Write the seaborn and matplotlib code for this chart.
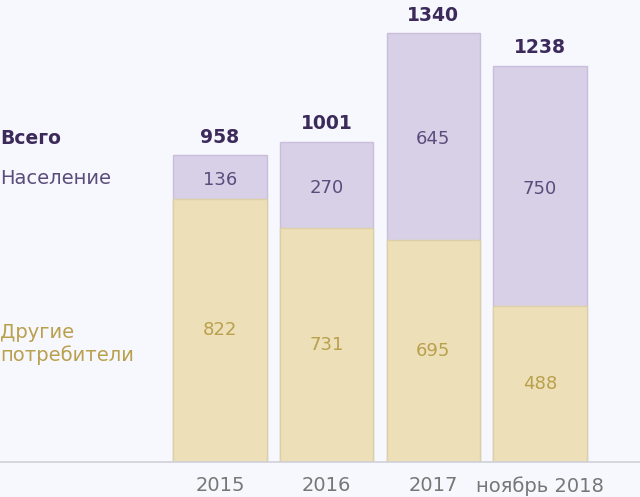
import numpy as np
import pandas as pd
import matplotlib
matplotlib.use("Agg")
import matplotlib.pyplot as plt
import seaborn as sns

# data
periods = ["2015", "2016", "2017", "ноябрь 2018"]
others = [822, 731, 695, 488]        # Другие потребители
population = [136, 270, 645, 750]    # Население
totals = [958, 1001, 1340, 1238]     # Всего

sns.set_style("white")
plt.rcParams["font.family"] = ["DejaVu Sans"]

BG = "#f7f8fd"
PURPLE_BAR = "#d8d0e6"
PURPLE_EDGE = "#c9bfdc"
BEIGE_BAR = "#ede0b8"
BEIGE_EDGE = "#ddd0a6"
DARK = "#3b2a5a"
MID_PURPLE = "#5b4c7c"
GOLD = "#b9a04c"
TICK_GREY = "#777777"

df = pd.DataFrame({"period": periods, "others": others,
                   "population": population, "total": totals})

fig = plt.figure(figsize=(6.4, 4.97), dpi=100, facecolor=BG)
ax = fig.add_axes([0, 35 / 497, 1, 462 / 497])
ax.set_facecolor(BG)

# stacked bars: total on the back (purple), others in front (beige)
sns.barplot(data=df, x="period", y="total", color=PURPLE_BAR, width=0.875,
            edgecolor=PURPLE_EDGE, linewidth=1, saturation=1, ax=ax)
sns.barplot(data=df, x="period", y="others", color=BEIGE_BAR, width=0.875,
            edgecolor=BEIGE_EDGE, linewidth=1, saturation=1, ax=ax)

ax.set_xlim(-220 / 106.67, (640 - 220) / 106.67)
ax.set_ylim(0, 462 / 0.3201)

for i, row in df.iterrows():
    ax.text(i, row["others"] / 2, f"{row['others']}", ha="center", va="center",
            fontsize=13, color=GOLD)
    ax.annotate(f"{row['population']}", (i, row["others"] + row["population"] / 2),
                xytext=(0, -2), textcoords="offset points",
                ha="center", va="center", fontsize=13, color=MID_PURPLE)
    ax.annotate(f"{row['total']}", (i, row["total"]), xytext=(0, 13),
                textcoords="offset points", ha="center", va="center",
                fontsize=13.5, fontweight="bold", color=DARK)

# row labels on the left
fig.text(0.0, 1 - 139 / 497, "Всего", ha="left", va="center",
         fontsize=13.5, fontweight="bold", color=DARK)
fig.text(0.0, 1 - 178 / 497, "Население", ha="left", va="center",
         fontsize=14, color=MID_PURPLE)
fig.text(0.0, 1 - 344 / 497, "Другие\nпотребители", ha="left", va="center",
         fontsize=14, color=GOLD, linespacing=1.25)

sns.despine(ax=ax, left=True, right=True, top=True)
ax.spines["bottom"].set_color("#cfd0d8")
ax.spines["bottom"].set_linewidth(1.2)
ax.set_yticks([])
ax.set_xlabel("")
ax.set_ylabel("")
ax.tick_params(axis="x", length=0, pad=10, labelsize=14, labelcolor=TICK_GREY)

fig.savefig("out.png", dpi=100, facecolor=BG)
